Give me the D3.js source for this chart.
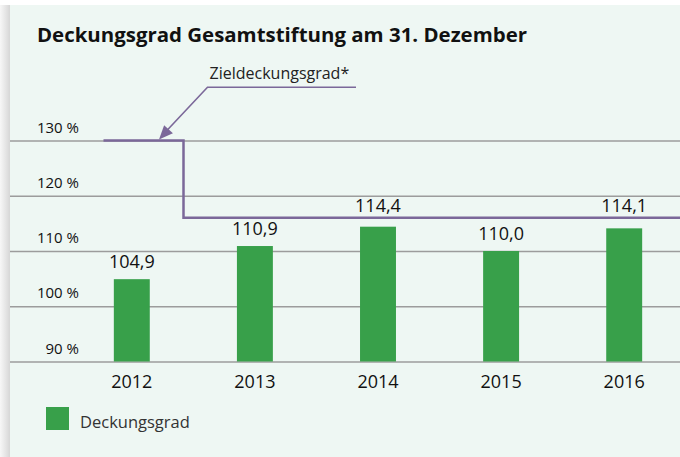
<!DOCTYPE html>
<html>
<head>
<meta charset="utf-8">
<script src="https://cdn.jsdelivr.net/npm/d3@7"></script>
<style>
  html, body { margin: 0; padding: 0; background: #fff; }
  svg { display: block; }
  text { font-family: "Open Sans", "DejaVu Sans", sans-serif; }
  .ylab { font-size: 15px; font-weight: 500; }
</style>
</head>
<body>
<svg id="chart" width="680" height="457"></svg>
<script>
// ---- data ----
const years = ["2012", "2013", "2014", "2015", "2016"];
const coverage = [104.9, 110.9, 114.4, 110.0, 114.1];
const valueLabels = ["104,9", "110,9", "114,4", "110,0", "114,1"];
const yTicks = [90, 100, 110, 120, 130];
// target coverage (Zieldeckungsgrad) as step change points: [year position, level]
const targetYears = [2011.77, 2012.42, 2017.5];
const targetLevels = [130, 116, 116];
const title = "Deckungsgrad Gesamtstiftung am 31. Dezember";
const targetLabel = "Zieldeckungsgrad*";
const legendLabel = "Deckungsgrad";

// ---- layout ----
const W = 680, H = 457;
const svg = d3.select("#chart");
const colBg = "#eef7f3", colBar = "#38a04a", colLine = "#7b6899", colGrid = "#9c9c9c";

// panel background with left shadow
const defs = svg.append("defs");
const grad = defs.append("linearGradient").attr("id", "shadow").attr("x1", 0).attr("x2", 1).attr("y1", 0).attr("y2", 0);
grad.append("stop").attr("offset", "0%").attr("stop-color", "#f7f7f7");
grad.append("stop").attr("offset", "60%").attr("stop-color", "#e4e4e4");
grad.append("stop").attr("offset", "100%").attr("stop-color", "#d6d6d6");
svg.append("rect").attr("x", 0).attr("y", 5).attr("width", 10).attr("height", H - 5).attr("fill", "url(#shadow)");
svg.append("rect").attr("x", 10).attr("y", 5).attr("width", W - 10).attr("height", H - 5).attr("fill", colBg);

// scales
const y = d3.scaleLinear().domain([90, 130]).range([361.5, 140.5]);
const x = d3.scaleBand().domain(years).range([70.25, 685.75]).paddingInner(0.708).paddingOuter(0.354);
const step = x.step();
const c0 = x("2012") + x.bandwidth() / 2;
const xYear = d3.scaleLinear().domain([2012, 2013]).range([c0, c0 + step]);

// title
svg.append("text").attr("x", 37).attr("y", 41.5)
  .style("font-size", "19px").attr("font-weight", 700).attr("fill", "#111")
  .attr("textLength", 490).attr("lengthAdjust", "spacingAndGlyphs")
  .text(title);

// gridlines
const grid = svg.append("g").attr("transform", "translate(10,0)")
  .call(d3.axisRight(y).tickValues(yTicks).tickSize(W - 10).tickFormat(""));
grid.select(".domain").remove();
grid.selectAll("line").attr("stroke", colGrid).attr("stroke-width", 1.3);

// y labels
const yAxis = svg.append("g").attr("transform", "translate(79,0)")
  .call(d3.axisLeft(y).tickValues(yTicks).tickSize(0).tickPadding(0).tickFormat(d => d + " %"));
yAxis.select(".domain").remove();
yAxis.attr("font-size", null).attr("font-family", null);
yAxis.selectAll("text").attr("dy", null).attr("y", -8.5)
  .attr("class", "ylab").attr("fill", "#111");

// bars
const data = years.map((yr, i) => ({ yr, v: coverage[i], lbl: valueLabels[i] }));
svg.append("g").selectAll("rect").data(data).join("rect")
  .attr("x", d => x(d.yr)).attr("width", x.bandwidth())
  .attr("y", d => y(d.v)).attr("height", d => y(90) - y(d.v))
  .attr("fill", colBar);

// target step line
const tgt = targetYears.map((t, i) => [xYear(t), y(targetLevels[i])]);
svg.append("path")
  .attr("d", d3.line().curve(d3.curveStepAfter)(tgt))
  .attr("fill", "none").attr("stroke", colLine).attr("stroke-width", 2.5);

// target level at a given x (for label collision)
function targetAt(px) {
  let lvl = targetLevels[0];
  targetYears.forEach((t, i) => { if (xYear(t) <= px) lvl = targetLevels[i]; });
  return y(lvl);
}

// value labels (moved above the target line if they would cross it)
const labelH = 13;
svg.append("g").selectAll("text").data(data).join("text")
  .attr("x", d => x(d.yr) + x.bandwidth() / 2)
  .attr("y", d => {
    const cx = x(d.yr) + x.bandwidth() / 2;
    const base = y(d.v) - 11;
    const ty = targetAt(cx);
    if (y(d.v) > ty && base - labelH < ty + 3) return ty - 6;
    return base;
  })
  .attr("text-anchor", "middle").style("font-size", "18px").attr("fill", "#111")
  .text(d => d.lbl);

// x axis labels
const xAxis = svg.append("g").attr("transform", `translate(0,${y(90)})`)
  .call(d3.axisBottom(x).tickSize(0).tickPadding(0));
xAxis.select(".domain").remove();
xAxis.attr("font-size", null).attr("font-family", null);
xAxis.selectAll("text").attr("y", 26.5).attr("dy", null).style("font-size", "18px").attr("fill", "#111");

// annotation
const tip = [159, y(130) - 1];
const elbow = [207.5, 87.3];
const labelEnd = [356, 87.3];
svg.append("path").attr("d", d3.line()([labelEnd, elbow, [tip[0] + 6, tip[1] - 7]]))
  .attr("fill", "none").attr("stroke", colLine).attr("stroke-width", 1.6);
// arrowhead
const ang = Math.atan2(tip[1] - elbow[1], tip[0] - elbow[0]);
const aL = 14, aW = 6;
const bx = tip[0] - aL * Math.cos(ang), by = tip[1] - aL * Math.sin(ang);
svg.append("path")
  .attr("d", `M${tip[0]},${tip[1]}L${bx + aW * Math.sin(ang)},${by - aW * Math.cos(ang)}L${bx - aW * Math.sin(ang)},${by + aW * Math.cos(ang)}Z`)
  .attr("fill", colLine);
svg.append("text").attr("x", 209.5).attr("y", 79)
  .style("font-size", "16px").attr("fill", "#222").text(targetLabel);

// legend
svg.append("rect").attr("x", 46).attr("y", 407).attr("width", 23).attr("height", 23).attr("fill", colBar);
svg.append("text").attr("x", 80).attr("y", 428).style("font-size", "16.5px").attr("fill", "#333").text(legendLabel);
</script>
</body>
</html>
